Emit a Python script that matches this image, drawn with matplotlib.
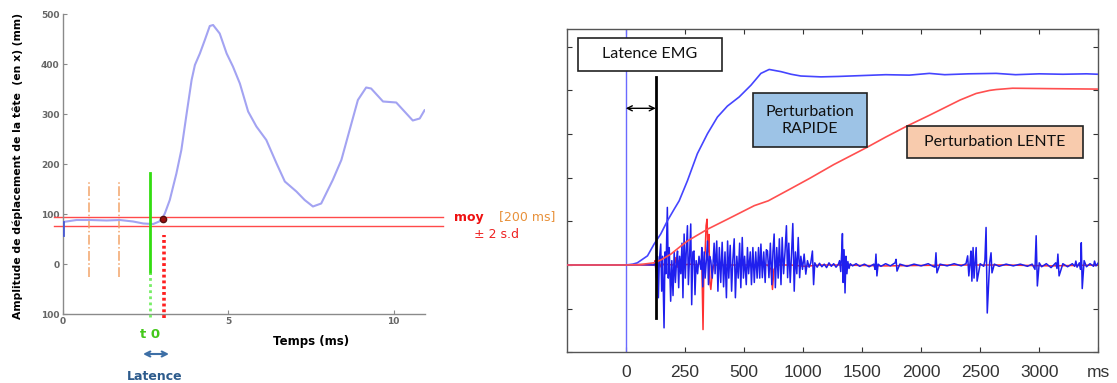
import matplotlib
matplotlib.use("Agg")
import matplotlib.pyplot as plt
from matplotlib.patches import Rectangle

# ---------------- data: left panel (head displacement) ----------------
head_t = [0.0, 0.0, 0.41, 0.82, 1.32, 1.72, 2.12, 2.43, 2.73, 2.91, 3.00, 3.08, 3.23,
          3.43, 3.58, 3.74, 3.89, 3.99, 4.14, 4.29, 4.44, 4.54, 4.74, 4.95, 5.14,
          5.35, 5.60, 5.85, 6.15, 6.46, 6.71, 7.06, 7.31, 7.56, 7.81, 8.16, 8.42,
          8.67, 8.92, 9.17, 9.32, 9.68, 10.08, 10.33, 10.58, 10.79, 10.94]
head_y = [58, 84, 88, 88, 87, 88, 85, 81, 80, 85, 91, 101, 128,
          181, 228, 301, 368, 398, 421, 448, 476, 478, 461, 421, 395,
          361, 305, 275, 248, 201, 165, 145, 128, 115, 121, 168, 208,
          268, 328, 353, 351, 325, 323, 305, 287, 291, 308]
band_upper = 94          # moy + 2 s.d
band_lower = 76          # moy - 2 s.d
window_t = [0.80, 1.70]  # [200 ms] window marks
t0 = 2.63
onset_t = 3.03
onset_y = 91
left_yticks = [-100, 0, 100, 200, 300, 400, 500]
left_yticklabels = ["100", "0", "100", "200", "300", "400", "500"]
left_xticks = [0, 5, 10]
left_xticklabels = ["0", "5", "10"]

# ---------------- data: right panel (EMG) ----------------
pos_rapide_t = [-250, 0, 30, 49, 92, 120, 148, 176, 205, 226, 261, 303, 346, 388,
                430, 480, 530, 572, 607, 657, 700, 741, 826, 900, 1000, 1100,
                1200, 1285, 1350, 1450, 1568, 1650, 1750, 1850, 1950, 2000]
pos_rapide_v = [0, 0, 0.02, 0.05, 0.21, 0.48, 0.71, 1.01, 1.28, 1.47, 1.93, 2.55, 3.01, 3.39,
                3.64, 3.85, 4.12, 4.39, 4.48, 4.43, 4.37, 4.33, 4.31, 4.32, 4.34, 4.36,
                4.35, 4.39, 4.36, 4.38, 4.39, 4.36, 4.38, 4.37, 4.38, 4.37]
pos_lente_t = [-250, 0, 60, 120, 150, 191, 230, 261, 346, 431, 544, 603, 692, 780,
               880, 1019, 1100, 1189, 1285, 1415, 1483, 1540, 1568, 1637, 1800, 2000]
pos_lente_v = [0, 0, 0.01, 0.05, 0.12, 0.25, 0.42, 0.55, 0.82, 1.05, 1.36, 1.47, 1.73, 1.99,
               2.30, 2.69, 2.93, 3.18, 3.43, 3.78, 3.93, 4.00, 4.02, 4.05, 4.04, 4.03]

emg_rapide_t = [
    -250, 0, 60, 120, 125, 130, 134, 138, 142, 148,
    152, 156, 162, 166, 170, 176, 180, 184, 190, 195,
    200, 205, 210, 215, 219, 224, 228, 233, 238, 242,
    247, 252, 256, 261, 265, 270, 275, 279, 284, 289,
    293, 298, 304, 310, 318, 322, 326, 332, 336, 341,
    346, 350, 355, 360, 366, 374, 378, 385, 390, 396,
    402, 408, 414, 420, 426, 431, 436, 442, 448, 453,
    459, 464, 470, 476, 482, 487, 493, 498, 503, 510,
    515, 520, 527, 532, 538, 544, 550, 556, 562, 567,
    572, 578, 584, 590, 595, 600, 606, 612, 618, 623,
    628, 633, 639, 645, 650, 657, 662, 668, 674, 680,
    685, 690, 696, 702, 707, 713, 718, 724, 730, 736,
    741, 748, 755, 762, 769, 776, 783, 790, 795, 800,
    810, 820, 830, 840, 850, 860, 870, 880, 890, 900,
    905, 910, 914, 917, 920, 924, 928, 932, 936, 940,
    945, 950, 960, 975, 990, 1010, 1030, 1050, 1055, 1059,
    1063, 1068, 1080, 1100, 1120, 1140, 1144, 1148, 1160, 1190,
    1220, 1250, 1280, 1300, 1309, 1313, 1317, 1330, 1360, 1390,
    1420, 1440, 1447, 1452, 1458, 1461, 1465, 1470, 1474, 1479,
    1483, 1487, 1500, 1515, 1520, 1525, 1530, 1540, 1546, 1550,
    1560, 1580, 1610, 1640, 1670, 1700, 1720, 1732, 1737, 1742,
    1750, 1760, 1780, 1800, 1820, 1825, 1829, 1834, 1850, 1870,
    1890, 1900, 1905, 1910, 1920, 1925, 1928, 1932, 1940, 1950,
    1965, 1980, 1984, 1990, 2000]
emg_rapide_v = [
    0.0, 0.0, 0.01, 0.0, 0.08, -0.30, 0.20, -0.75, 0.10, 0.48,
    -0.60, 0.20, -1.44, 0.30, -0.20, 1.32, -0.30, 0.40, -0.83, 0.10,
    -0.70, 0.30, -0.40, 0.10, 0.32, -0.52, 0.20, -0.20, 0.50, -0.75,
    0.71, -0.30, 0.30, 0.90, -0.45, 0.20, 0.94, -0.91, 0.30, 0.32,
    -0.68, 0.10, -0.20, 0.20, -0.10, 0.40, -0.50, 0.30, -0.30, 0.10,
    0.55, -0.45, 0.20, 0.10, -0.30, 0.50, -0.20, 0.55, -0.60, 0.40,
    -0.40, 0.52, -0.50, 0.30, -0.75, 0.55, -0.30, 0.45, -0.60, 0.10,
    0.60, -0.75, 0.20, -0.30, 0.50, -0.52, 0.63, -0.30, 0.20, -0.45,
    0.40, -0.20, 0.30, -0.45, 0.40, -0.40, 0.30, -0.30, 0.40, -0.30,
    0.48, -0.29, 0.30, -0.40, 0.35, 0.32, -0.29, 0.50, -0.45, 0.30,
    0.71, -0.52, 0.40, -0.30, 0.60, -0.45, 0.63, -0.20, 0.30, 0.90,
    -0.29, 0.50, -0.40, 0.30, 0.95, -0.60, 0.30, -0.20, 0.63, -0.29,
    0.20, -0.10, 0.25, -0.21, 0.10, -0.05, 0.05, 0.32, -0.45, 0.05,
    -0.05, 0.04, -0.04, 0.02, -0.06, 0.05, -0.03, 0.03, -0.05, 0.02,
    0.10, -0.15, 0.30, 0.72, -0.40, 0.35, -0.64, 0.20, -0.20, 0.08,
    -0.08, 0.03, -0.02, 0.03, -0.03, 0.02, -0.04, 0.02, -0.10, 0.25,
    -0.25, 0.02, -0.03, 0.03, -0.02, 0.05, 0.13, -0.14, 0.02, -0.03,
    0.02, -0.02, 0.03, -0.03, -0.05, 0.28, -0.18, 0.02, -0.02, 0.03,
    -0.02, 0.03, 0.21, -0.25, 0.10, 0.32, -0.37, 0.40, -0.30, 0.10,
    0.40, -0.37, 0.03, -0.03, 0.10, 0.86, -1.10, 0.05, 0.28, -0.18,
    0.02, -0.03, 0.02, -0.02, 0.02, -0.03, 0.02, -0.10, 0.67, -0.48,
    0.05, -0.04, 0.03, -0.06, 0.05, -0.08, 0.25, -0.25, 0.03, -0.04,
    0.03, -0.03, 0.09, -0.05, 0.05, -0.10, 0.51, -0.54, 0.10, -0.04,
    0.03, -0.03, 0.09, -0.02, 0.05]
emg_lente_t = [
    -250, 0, 120, 124, 128, 132, 136, 142, 150, 160,
    200, 208, 212, 218, 225, 232, 280, 300, 322, 327,
    331, 336, 340, 344, 348, 352, 356, 360, 366, 372,
    400, 500, 600, 615, 621, 627, 640, 700, 760, 820,
    900, 1100, 1400, 1600, 1800, 2000]
emg_lente_v = [
    0, 0, 0, 0.10, -0.15, 0.12, -0.10, 0.05, -0.05, 0.02,
    0.0, 0.05, 0.17, -0.05, 0.10, 0.0, 0.02, 0.0, 0.05, -1.48,
    0.10, 0.30, 0.90, 1.05, 0.30, 0.70, -0.40, -0.56, -0.20, 0.0,
    0.0, 0.0, 0.0, -0.10, -0.56, -0.10, 0.0, 0.0, -0.03, 0.0,
    0.0, -0.02, 0.0, 0.0, -0.02, 0.0]
latence_emg = 127
right_xticks = [0, 250, 500, 750, 1000, 1250, 1500, 1750, 2000]
right_xticklabels = ["0", "250", "500", "1000", "1500", "2000", "2500", "3000", "ms"]
right_yticks = [-2, -1, 0, 1, 2, 3, 4, 5]

# ---------------- figure ----------------
W, H = 1117, 383
fig = plt.figure(figsize=(W / 100, H / 100), dpi=100)
fig.patch.set_facecolor("white")

def fx(px):
    return px / W

def fy(py):
    return 1 - py / H

# ---------- left panel ----------
ax1 = fig.add_axes([fx(63), fy(314), (425 - 63) / W, 300 / H])
ax1.set_xlim(0, 10.95)
ax1.set_ylim(-100, 500)
for s in ("top", "right"):
    ax1.spines[s].set_visible(False)
for s in ("left", "bottom"):
    ax1.spines[s].set_color("#8a8a8a")
    ax1.spines[s].set_linewidth(1.0)
ax1.set_yticks(left_yticks)
ax1.set_yticklabels(left_yticklabels)
ax1.set_xticks(left_xticks)
ax1.set_xticklabels(left_xticklabels)
ax1.tick_params(direction="in", length=3, color="#8a8a8a", labelcolor="#666666",
                labelsize=6.5, pad=2.5)
for lab in ax1.get_xticklabels() + ax1.get_yticklabels():
    lab.set_fontweight("bold")

ax1.plot(head_t, head_y, color="#a3a3f2", lw=1.5, zorder=3,
         solid_joinstyle="round", solid_capstyle="round")
ax1.plot(head_t[:2], head_y[:2], color="#4a5ad0", lw=2.0, zorder=4)
ax1.axhline(band_upper, xmin=-0.025, xmax=1.05, color="#ff4a4a", lw=1.0, clip_on=False)
ax1.axhline(band_lower, xmin=-0.025, xmax=1.05, color="#ff4a4a", lw=1.0, clip_on=False)
ax1.vlines(window_t, -25, 165, colors="#f3a46a", linestyles="dashdot", lw=1.1)
ax1.plot([t0, t0], [-17, 183], color="#33dd11", lw=2.0, zorder=4)
ax1.plot([t0, t0], [-105, -17], color="#77ee66", lw=2.0, linestyle=(0, (1, 1.2)),
         clip_on=False, zorder=4)
ax1.plot([onset_t + 0.03, onset_t + 0.03], [-108, 58], color="#ff2020", lw=2.6,
         linestyle=(0, (0.8, 0.8)), clip_on=False, zorder=4)
ax1.plot([onset_t], [onset_y], marker="o", ms=4.5, color="#9b1010", mec="#551010",
         zorder=5)

fig.text(fx(18), fy(166), "Amplitude de déplacement de la tête  (en x) (mm)",
         rotation=90, ha="center", va="center", fontsize=7.8, fontweight="bold")
fig.text(fx(311), fy(341), "Temps (ms)", ha="center", va="center",
         fontsize=8.5, fontweight="bold")
fig.text(fx(150), fy(335), "t 0", ha="center", va="center", fontsize=9.5,
         fontweight="bold", color="#44c81a")
ax1.annotate("", xy=(fx(169), fy(354)), xytext=(fx(143), fy(354)),
             xycoords="figure fraction", textcoords="figure fraction",
             arrowprops=dict(arrowstyle="<->", color="#3d6fa6", lw=1.5,
                             shrinkA=0, shrinkB=0, mutation_scale=9))
fig.text(fx(155), fy(376), "Latence", ha="center", va="center", fontsize=9,
         fontweight="bold", color="#2d5b8c")
fig.text(fx(469), fy(217), "moy", ha="center", va="center", fontsize=9,
         fontweight="bold", color="#ee1111")
fig.text(fx(527), fy(217), "[200 ms]", ha="center", va="center", fontsize=9,
         color="#e8913a")
fig.text(fx(496), fy(235), "± 2 s.d", ha="center", va="center", fontsize=9,
         color="#ee2222")

# ---------- right panel ----------
ax2 = fig.add_axes([fx(566.7), fy(352.3), (1098.3 - 566.7) / W, (352.3 - 29.3) / H])
ax2.set_xlim(-250, 2000)
ax2.set_ylim(-2.0, 5.4)
for s in ax2.spines.values():
    s.set_color("#555555")
    s.set_linewidth(1.0)
ax2.set_xticks(right_xticks)
ax2.set_xticklabels(right_xticklabels, family="Liberation Sans")
ax2.set_yticks(right_yticks)
ax2.set_yticklabels([])
ax2.tick_params(direction="in", length=3.5, color="#333333", labelcolor="#333333",
                labelsize=12.5, pad=9, top=True, right=True)

ax2.axvline(0, color="#6a6aff", lw=1.0, zorder=2)
ax2.plot(emg_lente_t, emg_lente_v, color="#ff3030", lw=1.1, zorder=3)
ax2.plot(emg_rapide_t, emg_rapide_v, color="#1f1fee", lw=1.1, zorder=4)
ax2.plot(pos_rapide_t, pos_rapide_v, color="#4545ff", lw=1.2, zorder=5)
ax2.plot(pos_lente_t, pos_lente_v, color="#ff4f4f", lw=1.2, zorder=5)
ax2.plot([latence_emg, latence_emg], [-1.21, 4.30], color="black", lw=2.0, zorder=6)
ax2.annotate("", xy=(latence_emg, 3.59), xytext=(0, 3.59),
             arrowprops=dict(arrowstyle="<->", color="black", lw=1.0,
                             shrinkA=0, shrinkB=0, mutation_scale=9), zorder=6)

def box(x0, y0, x1, y1, text, fc, fs=11.5):
    r = Rectangle((fx(x0), fy(y1)), (x1 - x0) / W, (y1 - y0) / H,
                  transform=fig.transFigure, facecolor=fc, edgecolor="#222222",
                  lw=1.2, zorder=10)
    fig.patches.append(r)
    fig.text(fx((x0 + x1) / 2), fy((y0 + y1) / 2), text, ha="center", va="center",
             fontsize=fs, family="Lato", color="#111111", zorder=11,
             linespacing=1.25)

box(577.7, 38.3, 722.3, 70.7, "Latence EMG", "white")
box(752.7, 93.3, 867.3, 147.3, "Perturbation\nRAPIDE", "#9dc3e6")
box(907.3, 126.0, 1082.7, 158.3, "Perturbation LENTE", "#f8cbad")

fig.savefig("out.png", dpi=100)
